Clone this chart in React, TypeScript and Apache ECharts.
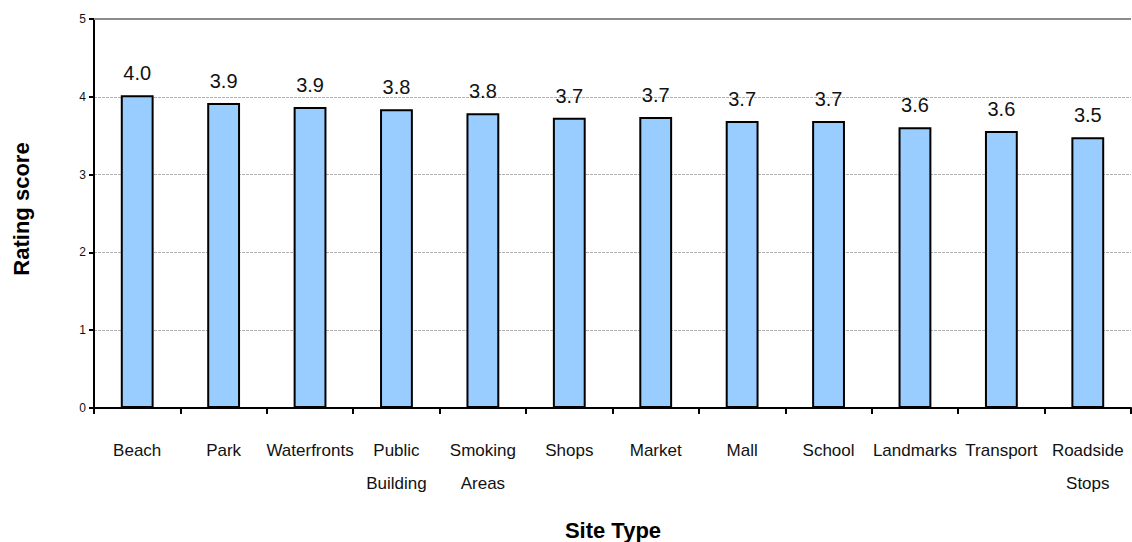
import React, { useEffect, useRef } from "react";
import * as echarts from "echarts";

const categories = [
  "Beach", "Park", "Waterfronts", "Public\nBuilding", "Smoking\nAreas", "Shops",
  "Market", "Mall", "School", "Landmarks", "Transport", "Roadside\nStops",
];
const ratings = [4.02, 3.92, 3.87, 3.84, 3.79, 3.73, 3.74, 3.69, 3.69, 3.61, 3.56, 3.48];
const yTicks = [0, 1, 2, 3, 4, 5];
const xTitle = "Site Type";
const yTitle = "Rating score";

export default function App() {
  const ref = useRef<HTMLDivElement>(null);
  useEffect(() => {
    if (!ref.current) return;
    const chart = echarts.init(ref.current, null, { renderer: "svg" });
    const narrow = "'Liberation Sans Narrow', 'Arial Narrow', Arial, 'Liberation Sans', sans-serif";
    const sans = "Arial, 'Liberation Sans', sans-serif";
    chart.setOption({
      animation: false,
      backgroundColor: "#ffffff",
      grid: { left: 94, right: 1, top: 19, bottom: 134, containLabel: false },
      xAxis: {
        type: "category",
        data: categories,
        boundaryGap: true,
        axisLine: { show: true, lineStyle: { color: "#000", width: 2 } },
        axisTick: { show: true, alignWithLabel: false, length: 6, lineStyle: { color: "#000", width: 2 } },
        axisLabel: {
          interval: 0,
          margin: 26,
          fontSize: 17,
          fontFamily: narrow,
          color: "#111",
          lineHeight: 33,
        },
      },
      yAxis: {
        type: "value",
        min: yTicks[0],
        max: yTicks[yTicks.length - 1],
        interval: 1,
        axisLine: { show: true, lineStyle: { color: "#000", width: 2 } },
        axisTick: { show: true, length: 5, lineStyle: { color: "#000", width: 2 } },
        axisLabel: { fontSize: 12, fontFamily: sans, color: "#111", margin: 8 },
        splitLine: {
          show: true,
          lineStyle: { color: "#b0b0b0", width: 1, type: [3, 1] },
        },
      },
      series: [
        {
          type: "bar",
          data: ratings,
          barWidth: "38%",
          itemStyle: { color: "#99ccff", borderColor: "#000", borderWidth: 2 },
          label: {
            show: true,
            position: "top",
            distance: 12,
            fontSize: 20,
            fontFamily: sans,
            color: "#111",
            formatter: (p: any) => Number(p.value).toFixed(1),
          },
          markLine: {
            silent: true,
            symbol: "none",
            label: { show: false },
            lineStyle: { color: "#8c8c8c", width: 2, type: "solid" },
            data: [{ yAxis: yTicks[yTicks.length - 1] }],
          },
        },
      ],
      graphic: [
        {
          type: "text",
          x: 613,
          y: 530,
          style: {
            text: xTitle,
            font: "bold 22px " + sans,
            fill: "#000",
            align: "center",
            verticalAlign: "middle",
          },
        },
        {
          type: "text",
          x: 21,
          y: 209,
          rotation: Math.PI / 2,
          style: {
            text: yTitle,
            font: "bold 22px " + sans,
            fill: "#000",
            align: "center",
            verticalAlign: "middle",
          },
        },
      ],
    });
    return () => chart.dispose();
  }, []);
  return (
    <div
      ref={ref}
      style={{ position: "fixed", left: 0, top: 0, width: 1132, height: 542 }}
    />
  );
}
